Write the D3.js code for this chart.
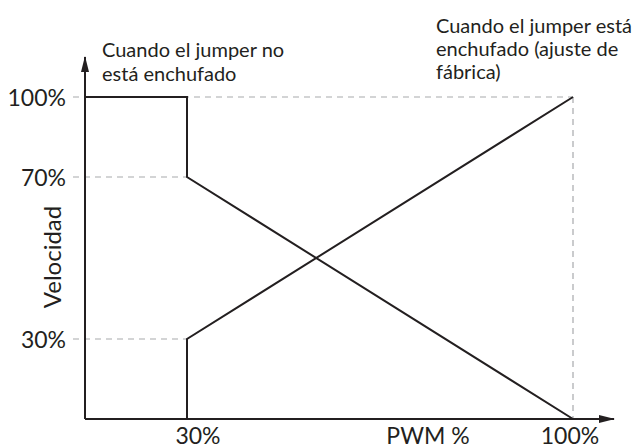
<!DOCTYPE html>
<html>
<head>
<meta charset="utf-8">
<script src="https://cdn.jsdelivr.net/npm/d3@7"></script>
<style>
  html, body { margin: 0; padding: 0; background: #fff; }
  svg { display: block; }
  text { font-family: "Lato", "Open Sans", sans-serif; fill: #231f20; }
</style>
</head>
<body>
<svg id="chart" width="634" height="448"></svg>
<script>
// ---- data ----
const xTickValues = [30, 100];
const xTickLabels = ["30%", "100%"];
const yTickValues = [30, 70, 100];
const yTickLabels = ["30%", "70%", "100%"];
const xAxisTitle = "PWM %";
const yAxisTitle = "Velocidad";
// Curve when the jumper is NOT plugged in
const noJumperX = [0, 30, 30, 100];
const noJumperY = [100, 100, 70, 0];
// Curve when the jumper IS plugged in (factory setting)
const jumperX = [30, 30, 100];
const jumperY = [0, 30, 100];
const noteNoJumper = ["Cuando el jumper no", "está enchufado"];
const noteJumper = ["Cuando el jumper está", "enchufado (ajuste de", "fábrica)"];

// ---- layout ----
const ink = "#231f20";
const gridCol = "#a7a9ac";
const svg = d3.select("#chart");

// Schematic (piecewise-linear) scales
const x = d3.scaleLinear().domain([0, 30, 100]).range([85, 187, 573]);
const y = d3.scaleLinear().domain([0, 30, 70, 100]).range([419, 339, 177, 97]);

const gridStartX = 73;

// dashed guides
svg.append("g").selectAll("line").data(yTickValues).join("line")
  .attr("x1", gridStartX)
  .attr("x2", d => d === 100 ? x(100) : x(30))
  .attr("y1", d => y(d)).attr("y2", d => y(d))
  .attr("stroke", gridCol).attr("stroke-width", 1.2)
  .attr("stroke-dasharray", "6,5");
svg.append("line")
  .attr("x1", x(100)).attr("x2", x(100))
  .attr("y1", y(100)).attr("y2", y(0))
  .attr("stroke", gridCol).attr("stroke-width", 1.2)
  .attr("stroke-dasharray", "6,5");

// axes with arrows
const defs = svg.append("defs");
defs.append("marker").attr("id", "arrow")
  .attr("viewBox", "0 0 16 8").attr("refX", 15).attr("refY", 4)
  .attr("markerWidth", 16).attr("markerHeight", 8)
  .attr("markerUnits", "userSpaceOnUse")
  .attr("orient", "auto")
  .append("path").attr("d", "M0,0 L16,4 L0,8 Z").attr("fill", ink);

svg.append("line")
  .attr("x1", x(0)).attr("y1", y(0)).attr("x2", 614).attr("y2", y(0))
  .attr("stroke", ink).attr("stroke-width", 2).attr("marker-end", "url(#arrow)");
svg.append("line")
  .attr("x1", x(0)).attr("y1", y(0)).attr("x2", x(0)).attr("y2", 57)
  .attr("stroke", ink).attr("stroke-width", 2).attr("marker-end", "url(#arrow)");

// curves
const line = d3.line().x(d => x(d[0])).y(d => y(d[1]));
svg.append("path").datum(d3.zip(noJumperX, noJumperY))
  .attr("d", line).attr("fill", "none").attr("stroke", ink).attr("stroke-width", 2)
  .attr("stroke-linejoin", "miter");
svg.append("path").datum(d3.zip(jumperX, jumperY))
  .attr("d", line).attr("fill", "none").attr("stroke", ink).attr("stroke-width", 2)
  .attr("stroke-linejoin", "miter");

// y tick labels
svg.append("g").selectAll("text").data(yTickValues).join("text")
  .attr("x", 66).attr("y", d => y(d) + 8.5)
  .attr("text-anchor", "end").attr("font-size", 23)
  .text((d, i) => yTickLabels[i]);

// x tick labels
svg.append("g").selectAll("text").data(xTickValues).join("text")
  .attr("x", (d, i) => x(d) + (i === 0 ? 11 : -3)).attr("y", 444)
  .attr("text-anchor", "middle").attr("font-size", 23)
  .text((d, i) => xTickLabels[i]);

// axis titles
svg.append("text").attr("x", 428).attr("y", 444)
  .attr("text-anchor", "middle").attr("font-size", 23).text(xAxisTitle);
svg.append("text")
  .attr("transform", "translate(61,257) rotate(-90)")
  .attr("text-anchor", "middle").attr("font-size", 24).text(yAxisTitle);

// annotations
svg.append("g").selectAll("text").data(noteNoJumper).join("text")
  .attr("x", 102).attr("y", (d, i) => 57 + i * 24)
  .attr("font-size", 20).text(d => d);
svg.append("g").selectAll("text").data(noteJumper).join("text")
  .attr("x", 436).attr("y", (d, i) => 33 + i * 23)
  .attr("font-size", 20).text(d => d);
</script>
</body>
</html>
